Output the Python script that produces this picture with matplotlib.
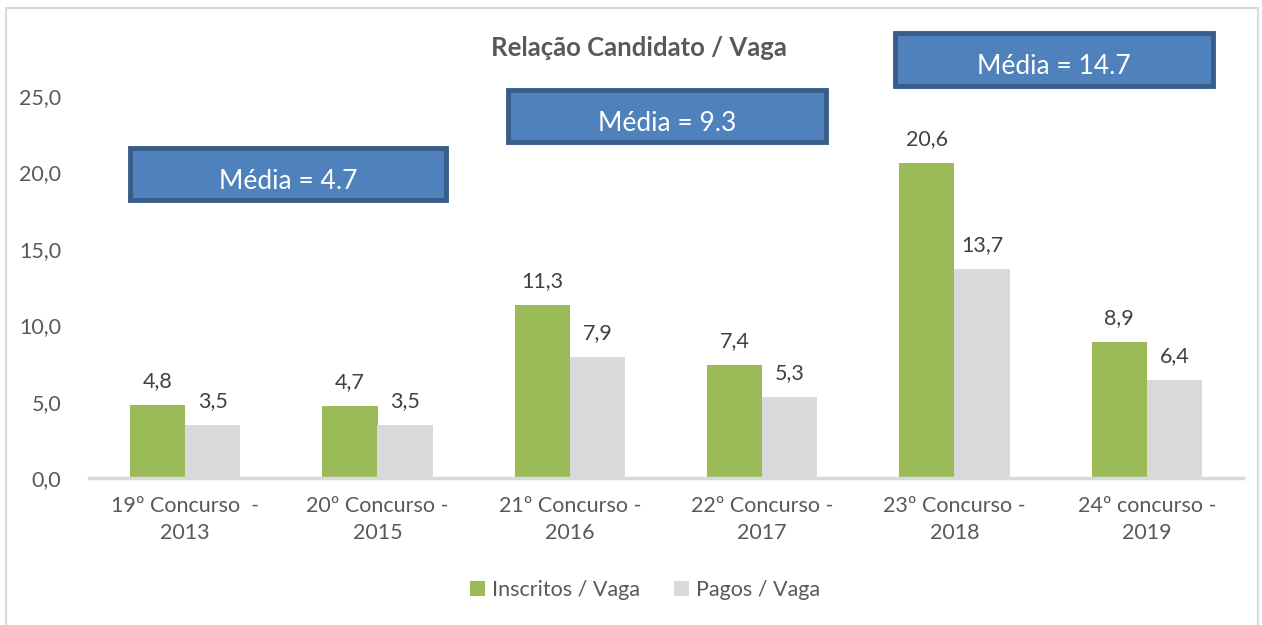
import numpy as np
import matplotlib
matplotlib.use('Agg')
import matplotlib.pyplot as plt
from matplotlib.patches import Rectangle
from matplotlib.ticker import FuncFormatter

plt.rcParams['font.family'] = ['Lato', 'DejaVu Sans']

# data
categories = ['19º Concurso  -\n2013', '20º Concurso -\n2015', '21º Concurso -\n2016',
              '22º Concurso -\n2017', '23º Concurso -\n2018', '24º concurso -\n2019']
inscritos = [4.8, 4.7, 11.3, 7.4, 20.6, 8.9]
pagos = [3.5, 3.5, 7.9, 5.3, 13.7, 6.4]
medias = ['Média = 4.7', 'Média = 9.3', 'Média = 14.7']

green = '#9BBB59'
grey = '#D9D9D9'
txt = '#595959'

fig = plt.figure(figsize=(12.62, 6.25), dpi=100)
ax = fig.add_axes([89 / 1262, 1 - 478 / 625, (1243 - 89) / 1262, (478 - 96) / 625])

x = np.arange(len(categories))
w = 0.286
b1 = ax.bar(x - w / 2, inscritos, w, color=green, label='Inscritos / Vaga')
b2 = ax.bar(x + w / 2, pagos, w, color=grey, label='Pagos / Vaga')

for bars, vals in [(b1, inscritos), (b2, pagos)]:
    for r, v in zip(bars, vals):
        ax.annotate(f'{v:.1f}'.replace('.', ','), (r.get_x() + r.get_width() / 2, v),
                    xytext=(0, 10), textcoords='offset points', ha='center', va='bottom',
                    fontsize=15.5, color='#404040')

ax.set_xlim(-0.5, len(categories) - 0.5)
ax.set_ylim(0, 25)
ax.set_yticks(np.arange(0, 26, 5))
ax.yaxis.set_major_formatter(FuncFormatter(lambda v, p: f'{v:.1f}'.replace('.', ',')))
ax.set_xticks(x)
ax.set_xticklabels(categories, linespacing=1.45)
ax.tick_params(axis='both', length=0, labelsize=15.5, labelcolor=txt)
ax.tick_params(axis='x', pad=13)
ax.tick_params(axis='y', pad=20)
for s in ['top', 'right', 'left']:
    ax.spines[s].set_visible(False)
ax.spines['bottom'].set_color(grey)
ax.spines['bottom'].set_linewidth(2.5)

fig.text(639 / 1262, 1 - 48 / 625, 'Relação Candidato / Vaga', ha='center', va='center',
         fontsize=18.5, fontweight='bold', color=txt)

# average boxes (figure pixel coords: left, top, right, bottom)
boxes = [(130, 148, 446, 200), (508, 90, 826, 142), (895, 33, 1213, 86)]
for (l, t, r, b), label in zip(boxes, medias):
    rect = Rectangle((l / 1262, 1 - b / 625), (r - l) / 1262, (b - t) / 625,
                     transform=fig.transFigure, facecolor='#4F81BD', edgecolor='#385D8A',
                     linewidth=3.5)
    fig.add_artist(rect)
    tx = fig.text((l + r) / 2 / 1262, 1 - (t + (b - t) * 0.64) / 625, label,
                  ha='center', va='center', fontsize=19, color='white')
    tx.set_clip_path(rect)

leg = fig.legend(handles=[b1, b2], loc='center', bbox_to_anchor=(645 / 1262, 1 - 590 / 625),
                 ncol=2, frameon=False, fontsize=15.5, handlelength=0.7, handleheight=0.7,
                 handletextpad=0.3, columnspacing=1.6)
for t in leg.get_texts():
    t.set_color(txt)

fig.add_artist(Rectangle((6 / 1262, -0.02), 1252 / 1262, 1.02 - 8 / 625,
                         transform=fig.transFigure, fill=False, edgecolor=grey, linewidth=1.5))

fig.savefig('out.png', dpi=100, facecolor='white')
